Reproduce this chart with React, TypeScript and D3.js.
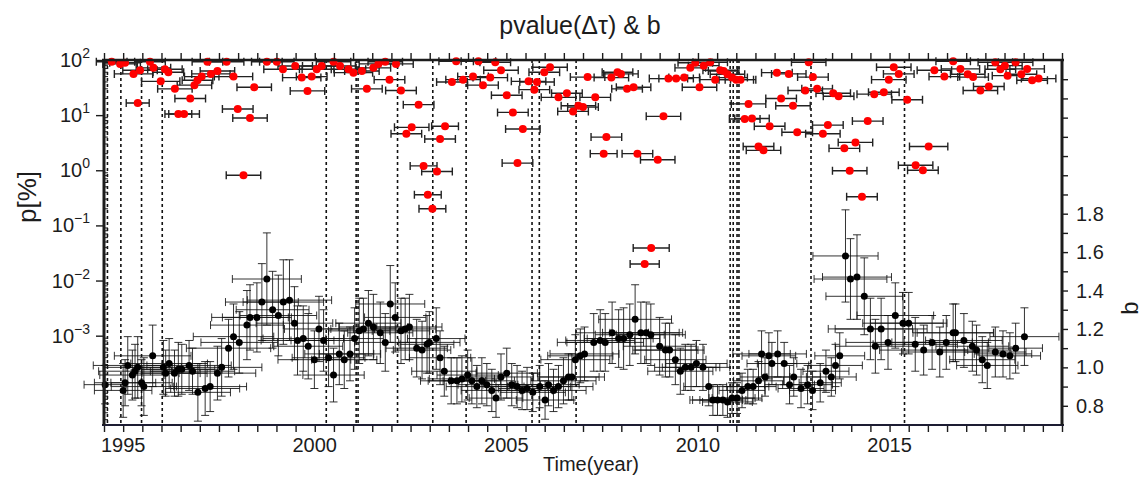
import React, { useEffect, useRef } from "react";
import * as d3 from "d3";

// b-value series (right axis): window centre time, b, vertical error, half window (years)
const bYears = [
  1994.53, 1995.0, 1995.05, 1995.12, 1995.24, 1995.31, 1995.38, 1995.48, 1995.54, 1995.77,
  1996.05, 1996.11, 1996.2, 1996.34, 1996.44, 1996.53, 1996.72, 1996.81, 1996.95, 1997.14,
  1997.27, 1997.46, 1997.57, 1997.75, 1997.88, 1998.03, 1998.23, 1998.31, 1998.49, 1998.62,
  1998.75, 1998.9, 1999.05, 1999.18, 1999.34, 1999.47, 1999.55, 1999.7, 1999.83, 1999.99,
  2000.11, 2000.23, 2000.36, 2000.49, 2000.64, 2000.77, 2000.92, 2001.04, 2001.16, 2001.27,
  2001.4, 2001.53, 2001.71, 2001.84, 2001.97, 2002.1, 2002.25, 2002.36, 2002.47, 2002.66,
  2002.8, 2002.93, 2002.99, 2003.17, 2003.27, 2003.38, 2003.56, 2003.71, 2003.84, 2003.99,
  2004.1, 2004.23, 2004.36, 2004.49, 2004.62, 2004.73, 2004.86, 2005.01, 2005.14, 2005.28,
  2005.41, 2005.54, 2005.69, 2005.87, 2006.01, 2006.1, 2006.23, 2006.36, 2006.49, 2006.62,
  2006.71, 2006.8, 2006.93, 2007.04, 2007.28, 2007.45, 2007.58, 2007.76, 2007.93, 2008.06,
  2008.22, 2008.36, 2008.51, 2008.65, 2008.77, 2009.0, 2009.15, 2009.26, 2009.41, 2009.54,
  2009.67, 2009.82, 2009.96, 2010.13, 2010.28, 2010.39, 2010.51, 2010.65, 2010.77, 2010.89,
  2011.02, 2011.15, 2011.3, 2011.44, 2011.58, 2011.66, 2011.75, 2011.85, 2011.93, 2012.08,
  2012.25, 2012.39, 2012.5, 2012.69, 2012.86, 2012.99, 2013.19, 2013.34, 2013.48, 2013.59,
  2013.7, 2013.85, 2013.98, 2014.15, 2014.34, 2014.5, 2014.63, 2014.78, 2014.96, 2015.15,
  2015.35, 2015.5, 2015.67, 2015.89, 2016.11, 2016.31, 2016.48, 2016.66, 2016.72, 2016.94,
  2017.16, 2017.27, 2017.42, 2017.55, 2017.76, 2017.96, 2018.14, 2018.29, 2018.52,
];
const bValues = [
  0.91, 0.88, 0.92, 1.01, 0.96, 0.98, 1.0, 0.92, 0.9, 1.06,
  1.0, 0.97, 1.02, 0.97, 0.99, 0.99, 1.01, 0.98, 0.87, 0.89,
  0.9, 0.97, 1.0, 1.1, 1.16, 1.13, 1.22, 1.26, 1.26, 1.34,
  1.46, 1.3, 1.27, 1.34, 1.35, 1.23, 1.14, 1.15, 1.11, 1.04,
  1.2, 1.14, 1.05, 0.96, 1.07, 1.04, 1.07, 1.15, 1.19, 1.2,
  1.23, 1.21, 1.18, 1.13, 1.33, 1.26, 1.19, 1.2, 1.21, 1.1,
  1.09, 1.12, 1.13, 1.15, 1.05, 0.98, 0.93, 0.93, 0.94, 0.96,
  0.93, 0.9, 0.93, 0.91, 0.88, 0.84, 0.95, 0.97, 0.91, 0.9,
  0.88, 0.89, 0.87, 0.9, 0.83, 0.91, 0.88, 0.9, 0.93, 0.95,
  0.95, 1.04, 1.06, 1.07, 1.13, 1.14, 1.13, 1.18, 1.15, 1.15,
  1.17, 1.25, 1.18, 1.18, 1.17, 1.11, 1.09, 1.09, 1.04, 0.98,
  1.0, 1.0, 1.02, 1.0, 0.9, 0.83, 0.83, 0.83, 0.82, 0.84,
  0.84, 0.88, 0.9, 0.9, 0.93, 1.07, 0.95, 1.06, 1.02, 1.07,
  1.02, 0.91, 0.95, 0.89, 0.91, 0.88, 0.92, 0.98, 0.95, 1.01,
  1.06, 1.58, 1.46, 1.47, 1.37, 1.2, 1.11, 1.2, 1.13, 1.27,
  1.23, 1.23, 1.12, 1.09, 1.13, 1.08, 1.13, 1.18, 1.18, 1.14,
  1.11, 1.09, 1.04, 1.01, 1.08, 1.07, 1.06, 1.1, 1.16,
];
const bErrors = [
  0.1, 0.14, 0.12, 0.15, 0.13, 0.14, 0.16, 0.12, 0.15, 0.16,
  0.14, 0.12, 0.13, 0.12, 0.14, 0.13, 0.13, 0.12, 0.15, 0.14,
  0.13, 0.14, 0.15, 0.15, 0.17, 0.16, 0.18, 0.17, 0.18, 0.2,
  0.24, 0.2, 0.21, 0.22, 0.21, 0.19, 0.18, 0.17, 0.17, 0.15,
  0.17, 0.16, 0.15, 0.14, 0.16, 0.15, 0.14, 0.16, 0.17, 0.16,
  0.17, 0.17, 0.16, 0.15, 0.2, 0.18, 0.17, 0.16, 0.17, 0.15,
  0.15, 0.15, 0.16, 0.16, 0.14, 0.13, 0.12, 0.12, 0.12, 0.13,
  0.12, 0.11, 0.12, 0.11, 0.11, 0.1, 0.12, 0.13, 0.11, 0.11,
  0.1, 0.11, 0.1, 0.11, 0.1, 0.11, 0.11, 0.11, 0.12, 0.12,
  0.12, 0.13, 0.14, 0.14, 0.15, 0.16, 0.15, 0.16, 0.15, 0.16,
  0.16, 0.18, 0.16, 0.16, 0.16, 0.15, 0.14, 0.14, 0.13, 0.12,
  0.12, 0.12, 0.12, 0.12, 0.1, 0.08, 0.08, 0.08, 0.08, 0.08,
  0.08, 0.09, 0.09, 0.09, 0.1, 0.12, 0.1, 0.12, 0.11, 0.12,
  0.11, 0.1, 0.1, 0.1, 0.1, 0.1, 0.1, 0.11, 0.1, 0.11,
  0.12, 0.24, 0.21, 0.22, 0.2, 0.16, 0.14, 0.16, 0.14, 0.17,
  0.16, 0.16, 0.14, 0.13, 0.14, 0.13, 0.14, 0.15, 0.15, 0.14,
  0.13, 0.13, 0.12, 0.12, 0.13, 0.12, 0.12, 0.13, 0.15,
];
const bHalfWindows = [
  0.55, 0.75, 0.8, 0.9, 0.85, 0.95, 0.9, 0.8, 0.85, 1.0,
  0.95, 0.9, 1.0, 0.85, 0.95, 1.05, 1.1, 1.1, 0.85, 0.9,
  0.95, 1.0, 1.05, 1.1, 1.05, 1.0, 0.95, 1.0, 0.9, 0.95,
  0.9, 0.95, 1.0, 1.05, 1.1, 1.0, 0.95, 1.05, 0.9, 0.95,
  0.9, 0.85, 0.95, 0.8, 0.9, 0.85, 0.8, 0.75, 0.8, 0.85,
  0.85, 0.9, 0.85, 0.8, 0.9, 0.8, 0.75, 0.8, 0.85, 0.8,
  0.75, 0.7, 0.8, 0.75, 0.8, 0.85, 0.8, 0.75, 0.85, 0.8,
  0.75, 0.8, 0.85, 0.75, 0.8, 0.7, 0.85, 0.8, 0.75, 0.8,
  0.8, 0.75, 0.85, 0.8, 0.75, 0.8, 0.85, 0.9, 0.85, 0.8,
  0.85, 0.9, 0.85, 0.9, 0.95, 0.9, 1.0, 0.95, 0.9, 0.95,
  0.9, 0.95, 1.0, 0.95, 0.9, 0.95, 0.85, 0.9, 0.8, 0.85,
  0.8, 0.75, 0.8, 0.7, 0.65, 0.6, 0.65, 0.6, 0.65, 0.6,
  0.65, 0.6, 0.55, 0.6, 0.65, 0.75, 0.65, 0.7, 0.65, 0.75,
  0.7, 0.65, 0.7, 0.6, 0.65, 0.6, 0.55, 0.6, 0.65, 0.7,
  0.65, 0.85, 0.95, 0.9, 1.0, 1.1, 1.05, 1.2, 1.1, 1.0,
  1.05, 1.0, 1.1, 1.15, 1.05, 1.0, 1.1, 1.05, 1.0, 1.0,
  0.95, 0.9, 0.85, 0.8, 0.8, 0.75, 0.8, 0.7, 0.9,
];

// p-value series (left axis, %): time, p, half window (years)
const pYears = [
  1994.7, 1994.92, 1995.05, 1995.27, 1995.44, 1995.7, 1995.79, 1995.98, 1996.09, 1996.18,
  1996.35, 1996.75, 1996.44, 1996.59, 1995.38, 1996.86, 1996.94, 1997.05, 1997.29, 1997.46,
  1997.2, 1997.7, 1997.88, 1998.42, 1997.99, 1998.31, 1998.14, 1998.75, 1999.01, 1999.17,
  1999.49, 1999.66, 1999.81, 1999.92, 2000.05, 2000.18, 2000.49, 2000.66, 2000.88, 2001.01,
  2001.23, 2001.36, 2001.53, 2001.66, 2001.84, 2001.95, 2002.12, 2002.25, 2002.71, 2002.53,
  2002.39, 2003.4, 2003.27, 2002.84, 2003.19, 2002.95, 2003.07, 2003.69, 2003.58, 2003.87,
  2004.13, 2004.27, 2004.39, 2004.58, 2004.71, 2004.86, 2005.01, 2005.17, 2005.43, 2005.29,
  2005.58, 2005.73, 2005.8, 2005.99, 2006.14, 2006.36, 2006.58, 2006.74, 2006.88, 2007.0,
  2007.12, 2007.32, 2007.61, 2007.54, 2007.74, 2007.9, 2007.99, 2008.15, 2008.32, 2008.42,
  2008.95, 2009.1, 2009.23, 2009.43, 2009.64, 2010.04, 2009.8, 2009.93, 2010.15, 2010.32,
  2010.45, 2010.58, 2010.67, 2010.77, 2010.89, 2011.0, 2011.11, 2011.32, 2011.22, 2011.41,
  2011.87, 2011.58, 2011.71, 2012.06, 2012.37, 2012.17, 2012.48, 2012.59, 2012.89, 2013.0,
  2012.8, 2013.11, 2013.53, 2013.67, 2013.39, 2013.26, 2014.11, 2013.82, 2013.96, 2014.28,
  2014.43, 2014.6, 2014.85, 2015.11, 2015.24, 2014.98, 2015.46, 2016.02, 2015.68, 2015.87,
  2016.17, 2016.43, 2016.66, 2016.85, 2017.04, 2017.18, 2017.37, 2017.59, 2017.76, 2017.89,
  2018.01, 2018.08, 2018.29, 2018.44, 2018.59, 2018.72, 2018.89, 2008.78, 2008.61,
];
const pValues = [
  93, 85, 89, 56, 65, 93, 72, 41, 68, 60,
  30, 20, 10.5, 10.5, 16.6, 35, 43, 50, 56, 63,
  93, 93, 50, 32, 12.9, 8.9, 0.81, 93, 93, 68,
  78, 48, 27.5, 50, 68, 78, 93, 78, 68, 59,
  63, 30, 72, 85, 93, 44, 85, 28, 15.5, 6.0,
  4.6, 6.3, 3.7, 1.2, 0.95, 0.36, 0.2, 95, 40, 44,
  50, 95, 35, 48, 91, 65, 23, 11.2, 5.6, 1.35,
  41, 29, 40, 60, 74, 21, 25, 11.7, 14.8, 14,
  49, 21, 4.0, 2.0, 48, 60, 56, 30, 32, 2.0,
  1.55, 9.5, 46, 46, 48, 32, 72, 89, 79, 91,
  44, 65, 63, 55, 48, 44, 44, 16, 8.5, 8.7,
  6.3, 2.7, 2.3, 59, 56, 20, 14.8, 4.9, 91, 49,
  28, 30, 25, 22, 6.6, 4.6, 3.2, 2.5, 0.98, 0.33,
  7.8, 24, 26, 74, 56, 44, 19, 2.7, 1.23, 1.0,
  65, 50, 95, 69, 55, 49, 28, 33, 91, 68,
  79, 52, 91, 55, 69, 43, 46, 0.039, 0.02,
];
const pHalfWindows = [
  0.4, 0.45, 0.4, 0.5, 0.45, 0.4, 0.45, 0.5, 0.45, 0.4,
  0.45, 0.4, 0.35, 0.4, 0.3, 0.45, 0.4, 0.45, 0.5, 0.45,
  0.4, 0.45, 0.5, 0.45, 0.4, 0.45, 0.45, 0.4, 0.45, 0.5,
  0.45, 0.5, 0.45, 0.4, 0.45, 0.5, 0.45, 0.4, 0.45, 0.5,
  0.45, 0.4, 0.45, 0.5, 0.45, 0.4, 0.45, 0.4, 0.4, 0.45,
  0.4, 0.35, 0.4, 0.35, 0.4, 0.35, 0.35, 0.45, 0.4, 0.45,
  0.4, 0.45, 0.4, 0.45, 0.4, 0.45, 0.4, 0.4, 0.45, 0.4,
  0.45, 0.4, 0.45, 0.4, 0.45, 0.45, 0.4, 0.4, 0.45, 0.4,
  0.45, 0.4, 0.4, 0.35, 0.45, 0.4, 0.45, 0.4, 0.45, 0.4,
  0.45, 0.45, 0.5, 0.45, 0.4, 0.45, 0.4, 0.45, 0.4, 0.45,
  0.4, 0.45, 0.4, 0.45, 0.4, 0.45, 0.4, 0.45, 0.4, 0.45,
  0.4, 0.4, 0.45, 0.4, 0.45, 0.4, 0.45, 0.4, 0.45, 0.4,
  0.45, 0.4, 0.45, 0.4, 0.4, 0.45, 0.45, 0.4, 0.45, 0.4,
  0.4, 0.45, 0.4, 0.45, 0.4, 0.45, 0.4, 0.5, 0.45, 0.4,
  0.45, 0.4, 0.45, 0.5, 0.45, 0.4, 0.45, 0.4, 0.45, 0.4,
  0.45, 0.4, 0.45, 0.4, 0.45, 0.4, 0.45, 0.47, 0.38,
];

// large events (dotted vertical lines)
const eventYears = [
  1994.59, 1994.94, 1995.48, 1996.02, 2000.3, 2001.08, 2001.13, 2002.16, 2003.08, 2003.95,
  2005.67, 2005.86, 2006.82, 2010.84, 2010.92, 2011.02, 2011.07, 2012.95, 2015.39,
];

const yearLabels = [1995, 2000, 2005, 2010, 2015];
const pExponents = [-3, -2, -1, 0, 1, 2];
const bLabels = [0.8, 1.0, 1.2, 1.4, 1.6, 1.8];

const W = 1145;
const H = 484;
const left = 104;
const right = 1062;
const top = 60;
const bottom = 425;
const FONT = "'Liberation Sans', Arial, sans-serif";
const INK = "#1c1c1c";

const App = () => {
  const chart = useRef<SVGSVGElement>(null);

  useEffect(() => {
    const svg = d3.select(chart.current);
    svg.selectAll("*").remove();

    const x = d3.scaleLinear().domain([1994.5, 2019.5]).range([left, right]);
    const yP = d3.scaleLog().domain([Math.pow(10, -4.62), 100]).range([bottom, top]);
    const yB = d3.scaleLinear().domain([0.7, 2.6]).range([bottom, top]);

    // dotted event lines
    svg
      .append("g")
      .selectAll("line")
      .data(eventYears)
      .join("line")
      .attr("x1", (d) => x(d))
      .attr("x2", (d) => x(d))
      .attr("y1", top)
      .attr("y2", bottom)
      .attr("stroke", "#111")
      .attr("stroke-width", 1.6)
      .attr("stroke-dasharray", "3,3");

    // b-values with error bars
    const bData = bYears.map((t, i) => ({ t, b: bValues[i], e: bErrors[i], w: bHalfWindows[i] }));
    const gb = svg.append("g").attr("stroke", "#111").attr("stroke-width", 1).attr("fill", "none");
    bData.forEach((d) => {
      const cx = x(d.t);
      const cy = yB(d.b);
      const x0 = x(d.t - d.w);
      const x1 = x(d.t + d.w);
      const y0 = yB(d.b - d.e);
      const y1 = yB(d.b + d.e);
      const path = d3.path();
      path.moveTo(x0, cy);
      path.lineTo(x1, cy);
      path.moveTo(x0, cy - 4);
      path.lineTo(x0, cy + 4);
      path.moveTo(x1, cy - 4);
      path.lineTo(x1, cy + 4);
      path.moveTo(cx, y0);
      path.lineTo(cx, y1);
      path.moveTo(cx - 4, y0);
      path.lineTo(cx + 4, y0);
      path.moveTo(cx - 4, y1);
      path.lineTo(cx + 4, y1);
      gb.append("path").attr("d", path.toString()).attr("stroke-opacity", 0.85);
    });
    svg
      .append("g")
      .selectAll("circle")
      .data(bData)
      .join("circle")
      .attr("cx", (d) => x(d.t))
      .attr("cy", (d) => yB(d.b))
      .attr("r", 3.5)
      .attr("fill", "#000");

    // p-values with time windows
    const pData = pYears.map((t, i) => ({ t, p: pValues[i], w: pHalfWindows[i] }));
    const gp = svg.append("g").attr("stroke", "#222").attr("stroke-width", 1.4).attr("fill", "none");
    pData.forEach((d) => {
      const cy = yP(d.p);
      const x0 = x(d.t - d.w);
      const x1 = x(d.t + d.w);
      const path = d3.path();
      path.moveTo(x0, cy);
      path.lineTo(x1, cy);
      path.moveTo(x0, cy - 4);
      path.lineTo(x0, cy + 4);
      path.moveTo(x1, cy - 4);
      path.lineTo(x1, cy + 4);
      gp.append("path").attr("d", path.toString());
    });
    svg
      .append("g")
      .selectAll("circle")
      .data(pData)
      .join("circle")
      .attr("cx", (d) => x(d.t))
      .attr("cy", (d) => yP(d.p))
      .attr("r", 4)
      .attr("fill", "#ff0000");

    // axes (ticks only, labels drawn below)
    const halfYears = d3.range(1994.5, 2019.51, 0.5);
    const styleAxis = (g: any) => {
      g.select(".domain").remove();
      g.selectAll("line").attr("stroke", INK).attr("stroke-width", 1.4);
      g.selectAll("text").remove();
    };
    svg
      .append("g")
      .attr("transform", `translate(0,${bottom})`)
      .call(d3.axisBottom(x).tickValues(halfYears).tickSize(7))
      .call(styleAxis);
    svg
      .append("g")
      .attr("transform", `translate(0,${top})`)
      .call(d3.axisTop(x).tickValues(halfYears).tickSize(7))
      .call(styleAxis);

    const pMajor = pExponents.map((e) => Math.pow(10, e));
    svg
      .append("g")
      .attr("transform", `translate(${left},0)`)
      .call(d3.axisLeft(yP).tickValues(pMajor).tickSize(8))
      .call(styleAxis);
    const pMinor: number[] = [];
    for (let e = -5; e < 2; e++) {
      for (let k = 2; k < 10; k++) {
        const v = k * Math.pow(10, e);
        if (v > Math.pow(10, -4.62) && v < 100) pMinor.push(v);
      }
    }
    svg
      .append("g")
      .selectAll("line")
      .data(pMinor)
      .join("line")
      .attr("x1", left)
      .attr("x2", left + 4)
      .attr("y1", (d) => yP(d))
      .attr("y2", (d) => yP(d))
      .attr("stroke", INK)
      .attr("stroke-width", 1);

    const bTicks = d3.range(0.8, 2.51, 0.1);
    svg
      .append("g")
      .attr("transform", `translate(${right},0)`)
      .call(d3.axisRight(yB).tickValues(bTicks).tickSize(6))
      .call(styleAxis);

    // frame
    const frame = svg.append("g").attr("stroke", INK);
    frame.append("line").attr("x1", left - 2).attr("x2", right + 2).attr("y1", top).attr("y2", top).attr("stroke-width", 2.5);
    frame.append("line").attr("x1", left - 2).attr("x2", right + 2).attr("y1", bottom).attr("y2", bottom).attr("stroke", "#1d1d33").attr("stroke-width", 2);
    frame.append("line").attr("x1", left).attr("x2", left).attr("y1", top).attr("y2", bottom).attr("stroke-width", 3);
    frame.append("line").attr("x1", right).attr("x2", right).attr("y1", top).attr("y2", bottom).attr("stroke-width", 3);

    // tick labels
    svg
      .append("g")
      .selectAll("text")
      .data(yearLabels)
      .join("text")
      .attr("x", (d) => x(d))
      .attr("y", 452)
      .attr("text-anchor", "middle")
      .attr("font-size", 20)
      .attr("font-family", FONT)
      .attr("fill", INK)
      .text((d) => String(d));

    const pl = svg
      .append("g")
      .selectAll("text")
      .data(pExponents)
      .join("text")
      .attr("x", 90)
      .attr("y", (d) => yP(Math.pow(10, d)) + 7)
      .attr("text-anchor", "end")
      .attr("font-size", 20)
      .attr("font-family", FONT)
      .attr("fill", INK);
    pl.append("tspan").text("10");
    pl.append("tspan")
      .attr("font-size", 14)
      .attr("dy", -9)
      .text((d) => (d < 0 ? "\u2212" + Math.abs(d) : String(d)));

    svg
      .append("g")
      .selectAll("text")
      .data(bLabels)
      .join("text")
      .attr("x", 1076)
      .attr("y", (d) => yB(d) + 7)
      .attr("font-size", 20)
      .attr("font-family", FONT)
      .attr("fill", INK)
      .text((d) => d.toFixed(1));

    // titles
    svg
      .append("text")
      .attr("x", 580)
      .attr("y", 34)
      .attr("text-anchor", "middle")
      .attr("font-size", 25)
      .attr("font-family", FONT)
      .attr("fill", INK)
      .text("pvalue(\u0394\u03c4) & b");
    svg
      .append("text")
      .attr("x", 591)
      .attr("y", 471)
      .attr("text-anchor", "middle")
      .attr("font-size", 20)
      .attr("font-family", FONT)
      .attr("fill", INK)
      .text("Time(year)");
    svg
      .append("text")
      .attr("transform", "translate(36,197) rotate(-90)")
      .attr("text-anchor", "middle")
      .attr("font-size", 26)
      .attr("font-family", FONT)
      .attr("fill", INK)
      .text("p[%]");
    svg
      .append("text")
      .attr("transform", "translate(1138,308) rotate(-90)")
      .attr("text-anchor", "middle")
      .attr("font-size", 24)
      .attr("font-family", FONT)
      .attr("fill", INK)
      .text("b");
  }, []);

  return (
    <svg
      ref={chart}
      width={W}
      height={H}
      style={{ position: "absolute", left: 0, top: 0, background: "#fff" }}
    ></svg>
  );
};

export default App;
